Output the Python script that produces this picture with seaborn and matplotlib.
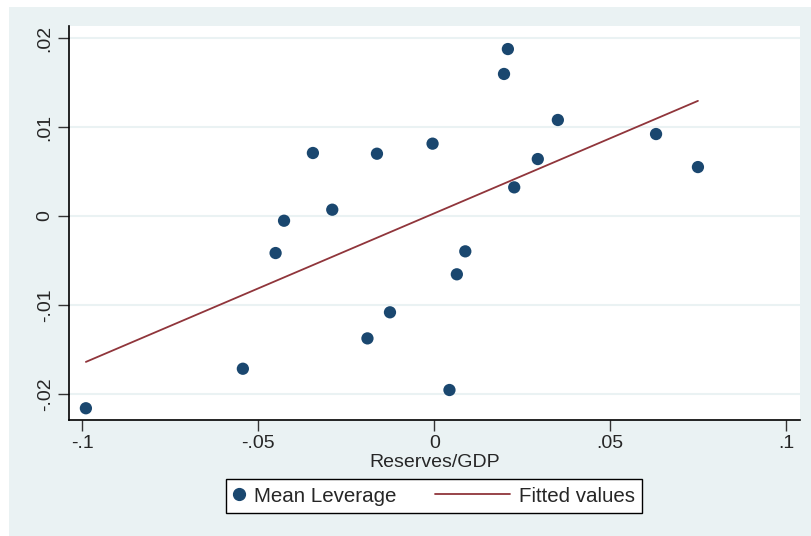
import matplotlib
matplotlib.use("Agg")
import matplotlib.pyplot as plt
import seaborn as sns
import pandas as pd
import numpy as np
from matplotlib.patches import Rectangle
from matplotlib.lines import Line2D
from matplotlib.legend_handler import HandlerBase

reserves_gdp = [-0.0990, -0.0544, -0.0451, -0.0427, -0.0345, -0.0290, -0.0190,
                -0.0163, -0.0126, -0.0005, 0.0043, 0.0064, 0.0088, 0.0198,
                0.0209, 0.0227, 0.0294, 0.0351, 0.0630, 0.0749]
mean_leverage = [-0.0216, -0.01716, -0.00416, -0.00053, 0.00708, 0.00071, -0.01375,
                 0.0070, -0.01082, 0.00813, -0.01955, -0.00655, -0.00397, 0.01596,
                 0.01876, 0.00322, 0.0064, 0.01079, 0.00921, 0.0055]
x_ticks = [-0.1, -0.05, 0, 0.05, 0.1]
x_tick_labels = ["-.1", "-.05", "0", ".05", ".1"]
y_ticks = [-0.02, -0.01, 0, 0.01, 0.02]
y_tick_labels = ["-.02", "-.01", "0", ".01", ".02"]

df = pd.DataFrame({"Reserves/GDP": reserves_gdp, "Mean Leverage": mean_leverage})

sns.set_style("white")
plt.rcParams['font.family'] = ['Liberation Sans Narrow', 'Liberation Sans', 'DejaVu Sans']

marker_col = "#1A476F"
line_col = "#90353B"
bg = "#EAF2F3"
fs = 14

fig = plt.figure(figsize=(8.11, 5.36), dpi=100, facecolor="white")
fig.patches.append(Rectangle((9/811, 0), 1 - 9/811, 1 - 7/536, transform=fig.transFigure,
                             facecolor=bg, edgecolor="none", zorder=-10))
ax = fig.add_axes([69/811, (536-420)/536, (800-69)/811, (420-26)/536])
ax.set_facecolor("white")

sns.regplot(data=df, x="Reserves/GDP", y="Mean Leverage", ci=None, ax=ax,
            scatter_kws=dict(s=78, color=marker_col, edgecolor="none", alpha=1, zorder=3),
            line_kws=dict(color=line_col, lw=1.3, zorder=2))

ax.set_xlim(-0.1038, 0.1039)
ax.set_ylim(-0.02292, 0.02135)
ax.set_xticks(x_ticks)
ax.set_xticklabels(x_tick_labels, fontsize=fs)
ax.set_yticks(y_ticks)
ax.set_yticklabels(y_tick_labels, fontsize=fs, rotation=90, va="center")
ax.tick_params(axis="both", direction="out", length=8, width=1, color="#333333",
               bottom=True, left=True, pad=3)
ax.grid(axis="y", color=bg, lw=1.5, zorder=0)
ax.grid(axis="x", visible=False)
for s in ["top", "right"]:
    ax.spines[s].set_visible(False)
for s in ["left", "bottom"]:
    ax.spines[s].set_color("black")
    ax.spines[s].set_linewidth(1.2)
ax.set_xlabel("Reserves/GDP", fontsize=fs, labelpad=1)
ax.set_ylabel("")


class LongLineHandler(HandlerBase):
    def __init__(self, extend_pt):
        super().__init__()
        self.extend_pt = extend_pt

    def create_artists(self, legend, orig, xdescent, ydescent, width, height,
                       fontsize, trans):
        y = height / 2 - ydescent
        l = Line2D([-xdescent - self.extend_pt, -xdescent + width], [y, y],
                   color=orig.get_color(), lw=orig.get_linewidth())
        l.set_transform(trans)
        return [l]


lfs = 14.8
h_marker = Line2D([], [], marker="o", ls="none", color=marker_col, markersize=8.5)
h_line = Line2D([], [], color=line_col, lw=1.3)
leg = fig.legend([h_marker, h_line], ["Mean Leverage", "Fitted values"], loc="center",
                 bbox_to_anchor=(434/811, (536-496)/536), ncol=2, fontsize=lfs,
                 frameon=True, fancybox=False, edgecolor="black", framealpha=1,
                 handlelength=0.6, columnspacing=4.9, handletextpad=0.45,
                 borderpad=0.35, borderaxespad=0,
                 handler_map={h_line: LongLineHandler(45)})
leg.get_frame().set_linewidth(1.0)

fig.savefig("out.png", dpi=100, facecolor="white")
